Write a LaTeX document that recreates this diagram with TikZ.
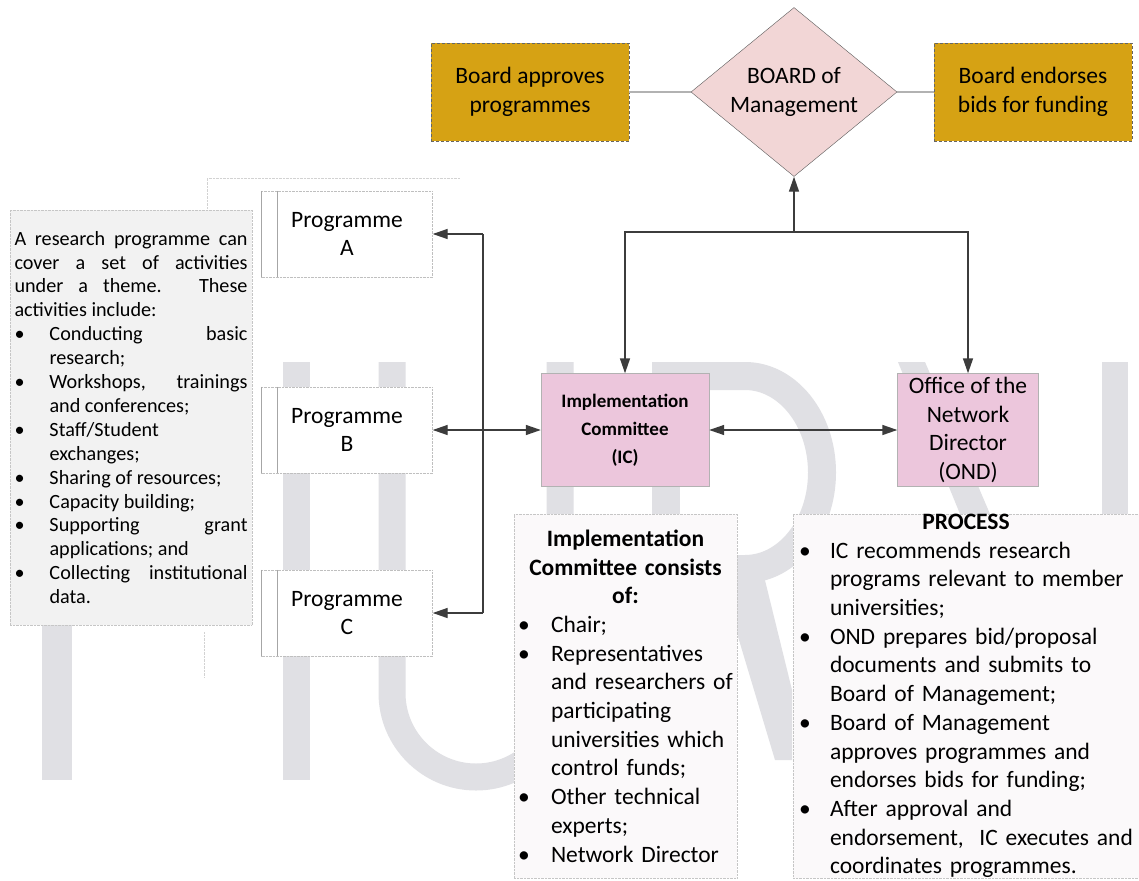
\documentclass[tikz,border=0pt]{standalone}
\usepackage{fontspec}
\setmainfont{Carlito}
\usetikzlibrary{positioning,shapes.geometric,arrows.meta}

\definecolor{gold}{RGB}{214,162,20}
\definecolor{boardpink}{RGB}{242,214,214}
\definecolor{icpink}{RGB}{236,198,220}
\definecolor{wmgray}{RGB}{224,224,228}
\definecolor{linkgray}{RGB}{60,60,60}
\definecolor{notegray}{RGB}{242,242,242}
\definecolor{notewhite}{RGB}{251,249,250}

\newlength{\bulind}
\newcommand{\bitem}[1]{\par\noindent\hangindent=\bulind\hangafter=1\makebox[\bulind][l]{\textbullet}#1}

\begin{document}
\begin{tikzpicture}[x=1pt, y=-1pt,
    every node/.style={font=\fontsize{23.5}{28.7}\selectfont},
    goldbox/.style={draw=gray!80!black, densely dashed, fill=gold, minimum width=198pt, minimum height=98pt, align=center},
    unitbox/.style={draw=gray!60, fill=icpink, minimum height=113pt, align=center, inner sep=0pt},
    progbox/.style={draw=gray!50, densely dotted, fill=white, minimum width=171pt, minimum height=86pt, align=center},
    progedge/.style={draw=gray!70, thin},
    notebox/.style={draw=gray!45, densely dotted, inner ysep=0pt},
    wm/.style={fill=wmgray, draw=none},
    faint/.style={draw=gray!35, densely dotted, thin},
    thinlink/.style={draw=gray!60, line width=1.2pt},
    link/.style={draw=linkgray, line width=1.4pt},
    arrow/.style={link, -{Triangle[length=15pt,width=10pt]}},
    biarrow/.style={link, {Triangle[length=15pt,width=10pt]}-{Triangle[length=15pt,width=10pt]}}]

    \useasboundingbox (0,0) rectangle (1139,880);
    \fill[white] (0,0) rectangle (1139,880);

    \fill[wm] (42,362) rectangle (72,780);
    \fill[wm] (283,362) rectangle (310,780);
    \draw[wmgray, line width=27pt] (392,362) -- (392,693) arc[start angle=180, end angle=0, radius=84] -- (560,362);
    \fill[wm] (652,362) rectangle (680,514);
    \draw[wmgray, line width=28pt] (666,376) -- (745,376) arc[start angle=-90, end angle=90, x radius=77, y radius=96.5] -- (690,569);
    \fill[wm] (715,560) -- (760,560) -- (792,690) -- (792,760) -- (775,760) -- cycle;
    \fill[wm] (898,362) -- (925,362) -- (990,514) -- (960,514) -- cycle;
    \fill[wm] (1102,362) rectangle (1128,514);

    \draw[faint] (207,210) -- (207,178) -- (460,178);
    \draw[faint] (204,632) -- (204,678);

    \node[goldbox] (appr) at (530,92) {Board approves\\programmes};
    \node[diamond, draw=gray!70!black, fill=boardpink, minimum width=206pt, minimum height=169pt, aspect=1.22, inner sep=0pt, align=center] (board) at (794,92) {BOARD of\\Management};
    \node[goldbox] (endr) at (1033,92) {Board endorses\\bids for funding};

    \node[unitbox, minimum width=168pt, font=\fontsize{19}{28}\selectfont\bfseries] (ic) at (625,430) {Implementation\\Committee\\(IC)};
    \node[unitbox, minimum width=141pt] (ond) at (968,430) {Office of the\\Network\\Director\\(OND)};

    \foreach \p/\y in {A/234, B/430, C/613} {
        \node[progbox] (pro\p) at (347,\y) {Programme\\\p};
        \draw[progedge] (pro\p.north west) -- (pro\p.south west);
        \draw[progedge] ([xshift=16pt]pro\p.north west) -- ([xshift=16pt]pro\p.south west);
    }

    \node[notebox, fill=notegray, text width=233pt, inner xsep=4.5pt, minimum height=415pt, align=justify, font=\fontsize{20.2}{23.9}\selectfont] (acts) at (131,417.5) {\setlength{\bulind}{35pt}\noindent
        A research programme can\linebreak cover a set of activities\linebreak under a theme. These\linebreak activities include:
        \bitem{Conducting basic\linebreak research;}
        \bitem{Workshops, trainings\linebreak and conferences;}
        \bitem{Staff/Student\newline exchanges;}
        \bitem{Sharing of resources;}
        \bitem{Capacity building;}
        \bitem{Supporting grant\linebreak applications; and}
        \bitem{Collecting institutional\linebreak data.}\par};

    \node[notebox, fill=notewhite, text width=215pt, inner xsep=4pt, minimum height=364pt] (members) at (625.5,696) {\setlength{\bulind}{33pt}\raggedright
        {\centering\bfseries\noindent Implementation\\Committee consists\\of:\par}
        \bitem{Chair;}
        \bitem{Representatives\newline and researchers of\newline participating\newline universities which\newline control funds;}
        \bitem{Other technical\newline experts;}
        \bitem{Network Director}\par};

    \node[notebox, fill=notewhite, text width=334pt, inner xsep=6pt, minimum height=364pt] (process) at (966,696) {\setlength{\bulind}{31pt}\raggedright
        {\centering\bfseries\noindent PROCESS\par}
        \bitem{IC recommends research\newline programs relevant to member\newline universities;}
        \bitem{OND prepares bid/proposal\newline documents and submits to\newline Board of Management;}
        \bitem{Board of Management\newline approves programmes and\newline endorses bids for funding;}
        \bitem{After approval and\newline endorsement,\ \ IC executes and\newline coordinates programmes.}\par};

    \coordinate (fork) at (794,232);
    \coordinate (spineA) at (483,234);
    \coordinate (spineC) at (483,613);

    \draw[thinlink] (appr) -- (board);
    \draw[thinlink] (board) -- (endr);
    \draw[arrow] (fork) -- (board);
    \draw[arrow] (fork) -| (ic);
    \draw[arrow] (fork) -| (ond);
    \draw[biarrow] (ic) -- (ond);
    \draw[link] (spineA) -- (spineC);
    \draw[arrow] (spineA) -- (proA);
    \draw[arrow] (spineC) -- (proC);
    \draw[biarrow] (proB) -- (ic);
\end{tikzpicture}
\end{document}
